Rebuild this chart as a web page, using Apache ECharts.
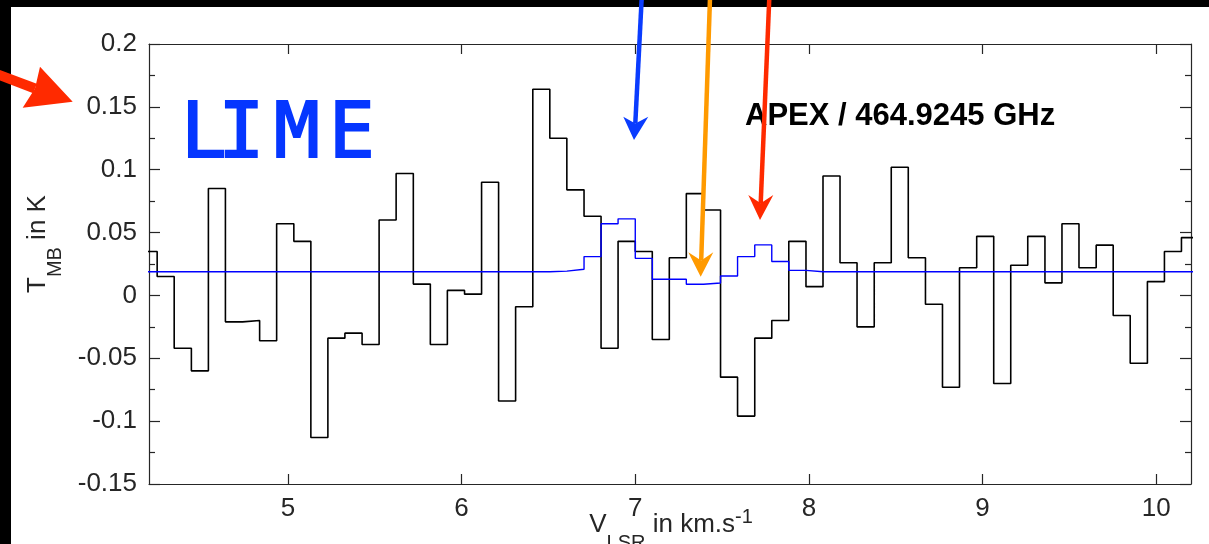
<!DOCTYPE html>
<html>
<head>
<meta charset="utf-8">
<script src="https://cdn.jsdelivr.net/npm/echarts@6/dist/echarts.min.js"></script>
<style>
  html, body { margin: 0; padding: 0; background: #fff; }
  #chart { width: 1209px; height: 544px; }
</style>
</head>
<body>
<div id="chart"></div>
<script>
// ---- data ----
// left edges of the spectral channels (km/s); last value closes the final channel
const velocity = [4.149, 4.247, 4.345, 4.444, 4.542, 4.640, 4.739, 4.837, 4.935, 5.034,
  5.132, 5.230, 5.328, 5.427, 5.525, 5.623, 5.722, 5.820, 5.918, 6.017,
  6.115, 6.213, 6.311, 6.410, 6.508, 6.606, 6.705, 6.803, 6.901, 7.000,
  7.098, 7.196, 7.294, 7.393, 7.491, 7.589, 7.688, 7.786, 7.884, 7.983,
  8.081, 8.179, 8.277, 8.376, 8.474, 8.572, 8.671, 8.769, 8.867, 8.966,
  9.064, 9.162, 9.260, 9.359, 9.457, 9.555, 9.654, 9.752, 9.850, 9.949,
  10.047, 10.145, 10.243];
// observed APEX spectrum T_MB (K), one value per channel
const observed = [0.035, 0.015, -0.042, -0.060, 0.085, -0.021, -0.020, -0.036, 0.057, 0.043,
  -0.113, -0.034, -0.030, -0.039, 0.060, 0.097, 0.009, -0.039, 0.004, 0.001,
  0.090, -0.084, -0.009, 0.164, 0.125, 0.084, 0.063, -0.042, 0.043, 0.035,
  -0.035, 0.030, 0.081, 0.068, -0.065, -0.096, -0.034, -0.020, 0.043, 0.007,
  0.095, 0.026, -0.025, 0.026, 0.102, 0.030, -0.007, -0.073, 0.022, 0.047,
  -0.070, 0.024, 0.047, 0.010, 0.057, 0.022, 0.040, -0.016, -0.054, 0.011,
  0.035, 0.046];
// LIME model spectrum T_MB (K)
const model = [0.0188, 0.0188, 0.0188, 0.0188, 0.0188, 0.0188, 0.0188, 0.0188, 0.0188, 0.0188,
  0.0188, 0.0188, 0.0188, 0.0188, 0.0188, 0.0188, 0.0188, 0.0188, 0.0188, 0.0188,
  0.0188, 0.0188, 0.0188, 0.0188, 0.0193, 0.0208, 0.0309, 0.0570, 0.0609, 0.0295,
  0.0129, 0.0129, 0.0089, 0.0099, 0.0155, 0.0309, 0.0402, 0.0270, 0.0199, 0.0188,
  0.0188, 0.0188, 0.0188, 0.0188, 0.0188, 0.0188, 0.0188, 0.0188, 0.0188, 0.0188,
  0.0188, 0.0188, 0.0188, 0.0188, 0.0188, 0.0188, 0.0188, 0.0188, 0.0188, 0.0188,
  0.0188, 0.0188];
const xTicks = [5, 6, 7, 8, 9, 10];
const yTicks = [-0.15, -0.1, -0.05, 0, 0.05, 0.1, 0.15, 0.2];
const xRange = [4.2, 10.2];

// ---- helpers ----
const FONT = '"Liberation Sans", Arial, Helvetica, sans-serif';
const AX = '#262626';
const cv = document.createElement('canvas').getContext('2d');
function width(text, font) { cv.font = font; return cv.measureText(text).width; }
function baseOff(font) {
  cv.font = font;
  cv.textBaseline = 'middle';
  const a = cv.measureText('H').actualBoundingBoxAscent;
  cv.textBaseline = 'alphabetic';
  const c = cv.measureText('H').actualBoundingBoxAscent;
  return c - a;
}
function txt(str, x, baseline, font, fill, extra) {
  const st = Object.assign({
    text: str, x: x, y: baseline - baseOff(font), font: font, fill: fill,
    align: 'left', verticalAlign: 'middle', textAlign: 'left', textVerticalAlign: 'middle'
  }, extra || {});
  return { type: 'text', z: 50, style: st };
}
function toPairs(vals) {
  return velocity.map((v, i) => [v, vals[Math.min(i, vals.length - 1)]]);
}
function fmtY(v) { return String(Number(v.toFixed(3))); }

// ---- labels composed of pieces (sub/superscripts) ----
const mainF = '26px ' + FONT, subF = '20px ' + FONT;
// x-axis title: V_LSR in km.s^-1
const xParts = [['V', mainF, 0], ['LSR', subF, 17.5], [' in km.s', mainF, 0], ['-1', subF, -8.5]];
const xTotal = xParts.reduce((s, p) => s + width(p[0], p[1]), 0);
let cx = 671 - xTotal / 2;
const xTitle = [];
xParts.forEach(p => { xTitle.push(txt(p[0], cx, 531.5 + p[2], p[1], AX)); cx += width(p[0], p[1]); });
// y-axis title: T_MB in K (rotated)
const yParts = [['T', mainF, 0], ['MB', subF, 16], [' in K', mainF, 0]];
let cy = 0;
const yTitleChildren = [];
yParts.forEach(p => { yTitleChildren.push(txt(p[0], cy, p[2], p[1], AX)); cy += width(p[0], p[1]); });

function arrow(x1, y1, head, color, lw) {
  // head: [wingA, notch, wingB, tip]
  return [
    { type: 'line', z: 60, shape: { x1: x1, y1: y1, x2: head[1][0], y2: head[1][1] },
      style: { stroke: color, lineWidth: lw } },
    { type: 'polygon', z: 61, shape: { points: [head[0], head[1], head[2], head[3]] },
      style: { fill: color } }
  ];
}

// LIME: hand-lettered look, letters placed one by one
const limeF = '76px "DejaVu Sans Mono", monospace';
const limeLetters = [['L', 204], ['I', 241.5], ['M', 297], ['E', 352]];
const limeText = limeLetters.map(l => txt(l[0], l[1], 157, limeF, '#0536ff',
  { stroke: '#0536ff', lineWidth: 2, lineJoin: 'round', lineCap: 'round',
    align: 'center', textAlign: 'center' }));
const apexF = 'bold 31px ' + FONT;

const graphics = [
  { type: 'rect', z: 40, shape: { x: 0, y: 0, width: 1209, height: 7 }, style: { fill: '#000' } },
  { type: 'rect', z: 40, shape: { x: 0, y: 0, width: 11, height: 544 }, style: { fill: '#000' } },
  txt('APEX / 464.9245 GHz', 745, 125, apexF, '#000'),
  { type: 'group', x: 45, y: 293, rotation: Math.PI / 2, children: yTitleChildren }
].concat(limeText)
 .concat(xTitle)
 .concat(arrow(641.7, -2, [[623.3, 116.7], [635.3, 123.5], [648.3, 116.7], [634, 140]], '#0a3cff', 4.5))
 .concat(arrow(710, -2, [[688.3, 252.3], [701.2, 260.5], [713.3, 252.3], [700.7, 276.7]], '#ff9a00', 4.5))
 .concat(arrow(769.3, -2, [[748.3, 195], [760.7, 203.3], [773.3, 195], [760, 220]], '#ff2a00', 4.5))
 .concat(arrow(-6, 73, [[40, 66.7], [35, 88.5], [22.7, 107.7], [72.7, 101.7]], '#ff2a00', 10));

const axisLineStyle = { color: AX, width: 1.2 };
function xAxisCfg(pos, showLabel) {
  return {
    type: 'value', position: pos, min: xRange[0], max: xRange[1],
    axisLine: { show: true, onZero: false, lineStyle: axisLineStyle },
    axisTick: { show: true, inside: true, length: 10, customValues: xTicks, lineStyle: axisLineStyle },
    axisLabel: { show: showLabel, customValues: xTicks, margin: 12, fontSize: 26, fontFamily: FONT, color: AX },
    splitLine: { show: false }, minorTick: { show: false }
  };
}
function yAxisCfg(pos, showLabel) {
  return {
    type: 'value', position: pos, min: yTicks[0], max: yTicks[yTicks.length - 1], interval: 0.05,
    axisLine: { show: true, onZero: false, lineStyle: axisLineStyle },
    axisTick: { show: true, inside: true, length: 11, lineStyle: axisLineStyle },
    minorTick: { show: true, splitNumber: 2, length: 6, lineStyle: axisLineStyle },
    axisLabel: { show: showLabel, margin: 12, fontSize: 26, fontFamily: FONT, color: AX, formatter: fmtY },
    splitLine: { show: false }, minorSplitLine: { show: false }
  };
}

const chart = echarts.init(document.getElementById('chart'), null, { renderer: 'canvas' });
chart.setOption({
  animation: false,
  backgroundColor: '#fff',
  grid: { left: 149, top: 44, width: 1042, height: 440, containLabel: false },
  xAxis: [xAxisCfg('bottom', true), xAxisCfg('top', false)],
  yAxis: [yAxisCfg('left', true), yAxisCfg('right', false)],
  series: [
    { type: 'line', name: 'APEX', data: toPairs(observed), step: 'end', symbol: 'none',
      clip: true, lineStyle: { color: '#000', width: 1.6 }, z: 3 },
    { type: 'line', name: 'LIME', data: toPairs(model), step: 'end', symbol: 'none',
      clip: true, lineStyle: { color: '#0000ff', width: 1.4 }, z: 4 }
  ],
  graphic: graphics
});
</script>
</body>
</html>
